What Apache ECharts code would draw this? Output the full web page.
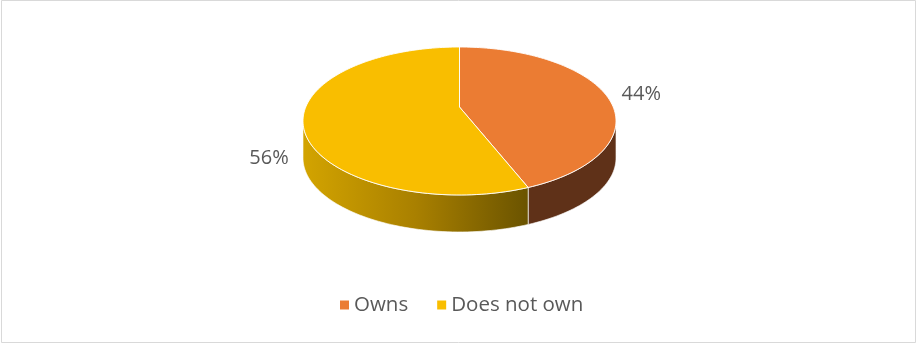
<!DOCTYPE html>
<html>
<head>
<meta charset="utf-8">
<script src="https://cdn.jsdelivr.net/npm/echarts@6/dist/echarts.min.js"></script>
<style>
html,body{margin:0;padding:0;background:#fff;}
#chart{width:917px;height:345px;}
</style>
</head>
<body>
<div id="chart"></div>
<script>
// ---- data ----
const categories = ['Owns', 'Does not own'];
const values = [44, 56];
const labelTexts = ['44%', '56%'];

// ---- styles ----
const topColors = ['#EB7C33', '#F9BE00'];
const sideFills = [
  '#5F3118',
  {type: 'linear', x: 0, y: 0, x2: 1, y2: 0, colorStops: [
    {offset: 0, color: '#D3A400'}, {offset: 0.5, color: '#A98000'}, {offset: 1, color: '#6A5300'}]}
];
const textColor = '#595959';
const fontFamily = '"Open Sans", "Noto Sans", sans-serif';

// layout of the 3D pie (perspective-projected disc)
const CX = 459.5, CY = 107, AX = 153.7, BY = 71.35, K = 0.189, DEPTH = 37;

const total = values.reduce((a, b) => a + b, 0);
function startAngle(i) {
  let s = 0;
  for (let k = 0; k < i; k++) s += values[k];
  return s / total * 360;
}
// angle measured clockwise from 12 o'clock; v>0 is towards the viewer
function pt(deg, dy) {
  const r = deg * Math.PI / 180;
  const u = Math.sin(r), v = -Math.cos(r);
  const w = 1 - K * v;
  return [CX + AX * u / w, CY + BY * v / w + (dy || 0)];
}
function arc(a, b, dy) {
  const pts = [];
  const n = Math.max(2, Math.ceil(Math.abs(b - a) / 1.5));
  for (let j = 0; j <= n; j++) pts.push(pt(a + (b - a) * j / n, dy));
  return pts;
}
const SIDE_A = Math.acos(-K) * 180 / Math.PI;   // right silhouette
const SIDE_B = 360 - SIDE_A;                     // left silhouette

function renderItem(params, api) {
  const i = params.seriesIndex;
  const a = startAngle(i);
  const b = a + api.value(0) / total * 360;
  const children = [];
  const sa = Math.max(a, SIDE_A), sb = Math.min(b, SIDE_B);
  if (sb > sa) {
    const top = arc(sa, sb, 0);
    const bot = arc(sa, sb, DEPTH).reverse();
    children.push({
      type: 'polygon', z2: 1,
      shape: {points: top.concat(bot)},
      style: {fill: sideFills[i], stroke: 'rgba(255,255,255,0.8)', lineWidth: 0.8}
    });
  }
  const topPts = [[CX, CY]].concat(arc(a, b, 0));
  children.push({
    type: 'polygon', z2: 10,
    shape: {points: topPts},
    style: {fill: topColors[i], stroke: 'rgba(255,255,255,0.9)', lineWidth: 1}
  });
  const midDeg = (a + b) / 2;
  const m = midDeg * Math.PI / 180;
  const p = pt(midDeg, 0);
  const lx = p[0] + (Math.sin(m) >= 0 ? 36 : -34);
  const ly = p[1] + (Math.cos(m) < 0 ? DEPTH : 0.5);
  children.push({
    type: 'text', z2: 20,
    style: {text: labelTexts[i], x: lx, y: ly, align: 'center', verticalAlign: 'middle',
      fill: textColor, font: '20px ' + fontFamily}
  });
  return {type: 'group', children: children};
}

const chart = echarts.init(document.getElementById('chart'), null, {renderer: 'canvas'});
chart.setOption({
  animation: false,
  backgroundColor: '#fff',
  legend: {
    data: categories,
    left: 340, top: 294.5, padding: 0,
    icon: 'rect', itemWidth: 9, itemHeight: 9, itemGap: 29,
    textStyle: {color: textColor, fontSize: 20.5, fontFamily: fontFamily, lineHeight: 20}
  },
  graphic: [{
    type: 'rect', silent: true, z: -1,
    shape: {x: 1.5, y: 0.5, width: 914, height: 342},
    style: {fill: 'none', stroke: '#D9D9D9', lineWidth: 1}
  }],
  series: categories.map((name, i) => ({
    type: 'custom',
    name: name,
    coordinateSystem: 'none',
    itemStyle: {color: topColors[i]},
    renderItem: renderItem,
    data: [[values[i]]]
  }))
});
</script>
</body>
</html>
